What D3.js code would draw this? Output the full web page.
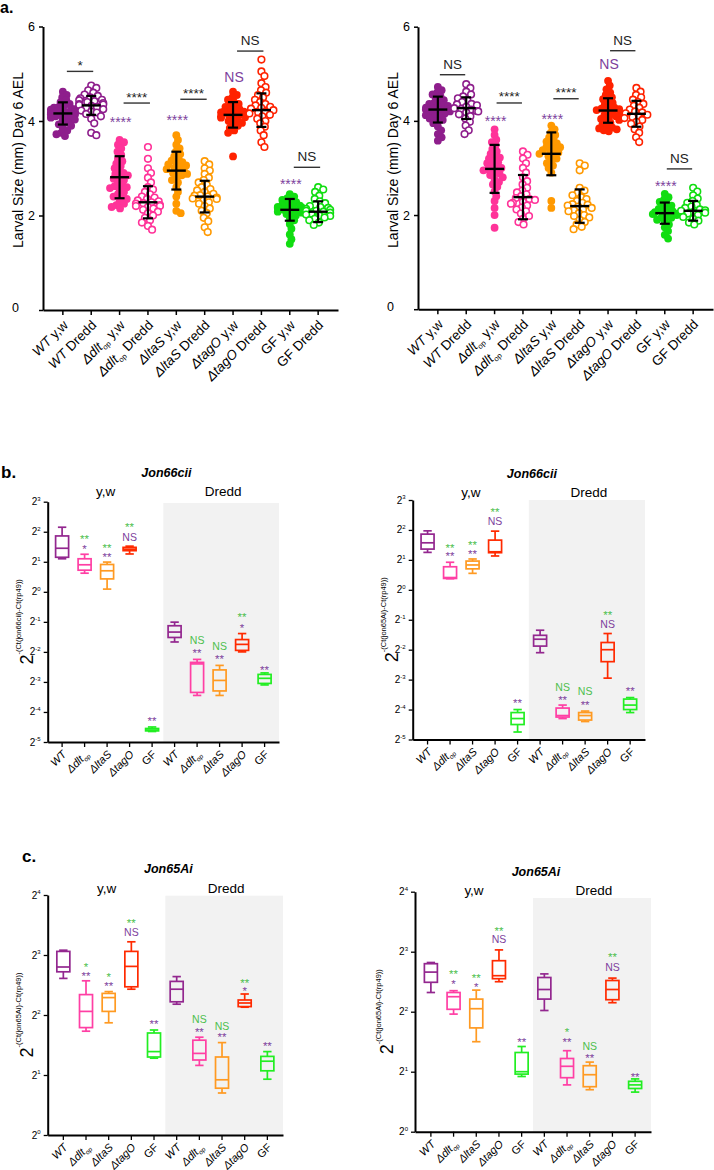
<!DOCTYPE html>
<html><head><meta charset="utf-8">
<script src="https://cdn.jsdelivr.net/npm/d3@7/dist/d3.min.js"></script>
<style>
html,body{margin:0;padding:0;background:#fff;}
svg{display:block;}
text{font-family:Arial,"Liberation Sans",Helvetica,sans-serif;fill:#000;}
</style></head><body>
<svg id="fig" width="714" height="1170"></svg>
<script>
// ================= DATA =================
// Panel a categories
const aGenotypes = ["WT","Δdlt","ΔltaS","ΔtagO","GF"];
const aGenotypeSub = ["","op","","",""];
const aBackgrounds = ["y,w","Dredd"];
const aYTicks = [0,2,4,6];
const groupColors = ["#8E1E8C","#FF3399","#FF9900","#FF2200","#11DD11"];
const boxColors = ["#93278F","#FF3FA4","#FF9A22","#FF2A00","#22EE22"];
const markPurple = "#7E3F9D";
const markGreen = "#4DBF4D";

// Panel a (left) individual larval sizes (mm)
const aL_WT_yw = [3.68,3.72,3.75,3.8,3.85,3.9,3.93,3.97,4.0,4.03,4.05,4.07,4.1,4.12,4.14,4.15,4.17,4.18,4.2,4.22,4.24,4.26,4.28,4.3,4.33,4.36,4.4,4.44,4.5,4.55,4.62,4.08,4.19,4.25,4.13];
const aL_WT_Dredd = [3.7,3.75,3.95,4.05,4.1,4.15,4.18,4.22,4.25,4.28,4.3,4.32,4.34,4.36,4.38,4.4,4.42,4.45,4.48,4.5,4.53,4.56,4.6,4.65,4.7,4.75,4.2,4.35,4.44];
const aL_dlt_yw = [2.15,2.18,2.22,2.25,2.3,2.35,2.4,2.45,2.5,2.55,2.6,2.65,2.7,2.75,2.8,2.85,2.9,2.95,3.0,3.05,3.1,3.15,3.2,3.28,3.35,3.42,3.5,3.55,3.6,2.62,2.78,2.88,2.58,2.4];
const aL_dlt_Dredd = [1.7,1.78,1.85,1.9,1.95,2.0,2.05,2.08,2.12,2.15,2.18,2.2,2.22,2.25,2.28,2.3,2.32,2.35,2.38,2.4,2.45,2.5,2.55,2.6,2.7,2.8,2.9,3.0,3.2,3.45,2.26,2.2];
const aL_ltaS_yw = [2.05,2.1,2.25,2.4,2.5,2.6,2.7,2.75,2.8,2.85,2.9,2.93,2.96,3.0,3.03,3.06,3.1,3.13,3.16,3.2,3.25,3.3,3.35,3.42,3.5,3.6,3.7,2.98,3.08,2.88];
const aL_ltaS_Dredd = [1.65,1.75,1.88,1.95,2.05,2.1,2.15,2.2,2.25,2.28,2.32,2.35,2.38,2.4,2.43,2.46,2.5,2.53,2.56,2.6,2.65,2.7,2.75,2.8,2.88,2.95,3.0,3.08,3.15,2.42,2.36];
const aL_tagO_yw = [3.25,3.75,3.8,3.85,3.9,3.93,3.96,4.0,4.02,4.05,4.07,4.1,4.12,4.14,4.16,4.18,4.2,4.22,4.25,4.28,4.3,4.33,4.36,4.4,4.45,4.5,4.55,4.62,4.08,4.15,4.2];
const aL_tagO_Dredd = [3.45,3.55,3.7,3.8,3.88,3.95,4.0,4.05,4.1,4.13,4.16,4.2,4.23,4.26,4.3,4.33,4.36,4.4,4.45,4.5,4.55,4.6,4.65,4.72,4.8,4.95,5.05,5.3,4.18,4.28];
const aL_GF_yw = [1.4,1.5,1.6,1.72,1.82,1.9,1.95,2.0,2.03,2.06,2.08,2.1,2.12,2.14,2.16,2.18,2.2,2.22,2.25,2.28,2.3,2.33,2.36,2.4,2.45,2.11,2.17,2.05,2.21];
const aL_GF_Dredd = [1.8,1.85,1.9,1.93,1.96,1.99,2.02,2.04,2.06,2.08,2.1,2.12,2.14,2.16,2.18,2.2,2.23,2.26,2.3,2.35,2.42,2.5,2.55,2.6,2.0,2.1];
const aLeftMean = [4.16,4.33,2.81,2.28,2.95,2.4,4.13,4.23,2.12,2.08];
const aLeftSD   = [0.235,0.2,0.445,0.34,0.4,0.335,0.27,0.355,0.23,0.22];
const aLeftBracketLevel = [5.05,4.38,4.46,5.48,3.02];
const aLeftBracketText  = ["*","****","****","NS","NS"];
const aLeftMarkLevel = [null,4.04,4.08,4.93,2.73];
const aLeftMarkText  = ["","****","****","NS","****"];

// Panel a (right)
const aR_WT_yw = [3.58,3.65,3.72,3.8,3.88,3.95,4.0,4.05,4.08,4.12,4.15,4.18,4.2,4.22,4.24,4.26,4.28,4.3,4.33,4.36,4.4,4.44,4.48,4.52,4.56,4.6,4.65,4.72,4.1,4.25,4.32,4.17,4.38,4.02];
const aR_WT_Dredd = [3.72,3.8,3.9,3.98,4.05,4.1,4.14,4.18,4.21,4.24,4.27,4.3,4.33,4.36,4.4,4.44,4.48,4.52,4.56,4.62,4.7,4.78,4.25,4.2,4.35];
const aR_dlt_yw = [1.73,2.0,2.15,2.3,2.4,2.5,2.6,2.65,2.7,2.75,2.8,2.85,2.9,2.95,3.0,3.05,3.1,3.15,3.2,3.25,3.3,3.35,3.4,3.48,3.55,3.6,3.7,3.82,2.97,3.02,3.12,2.88,3.22];
const aR_dlt_Dredd = [1.8,1.85,1.92,1.98,2.03,2.08,2.12,2.16,2.2,2.24,2.28,2.32,2.36,2.4,2.44,2.48,2.52,2.58,2.65,2.72,2.8,2.9,3.0,3.1,3.2,3.28,3.35,2.26,2.34];
const aR_ltaS_yw = [2.15,2.3,2.9,3.0,3.05,3.1,3.15,3.2,3.25,3.3,3.33,3.36,3.4,3.44,3.48,3.52,3.56,3.6,3.65,3.7,3.75,3.82,3.9,3.28,3.38,3.45];
const aR_ltaS_Dredd = [1.7,1.75,1.8,1.85,1.9,1.95,2.0,2.04,2.08,2.12,2.15,2.18,2.2,2.23,2.26,2.3,2.34,2.38,2.42,2.47,2.52,2.58,2.95,3.05,3.1,2.1,2.22,1.98];
const aR_tagO_yw = [3.78,3.8,3.84,3.88,3.92,3.96,4.0,4.04,4.08,4.12,4.16,4.2,4.23,4.26,4.3,4.34,4.38,4.42,4.46,4.5,4.55,4.6,4.67,4.75,4.85,4.1,4.18,4.25,4.28,3.82,3.86,4.02];
const aR_tagO_Dredd = [3.55,3.65,3.75,3.82,3.88,3.94,3.98,4.02,4.06,4.1,4.13,4.16,4.2,4.24,4.28,4.32,4.36,4.4,4.45,4.5,4.55,4.62,4.7,4.08,4.18];
const aR_GF_yw = [1.5,1.58,1.66,1.74,1.8,1.86,1.9,1.94,1.97,2.0,2.03,2.05,2.08,2.1,2.13,2.16,2.2,2.24,2.28,2.33,2.38,2.45,2.02,2.06,1.95];
const aR_GF_Dredd = [1.8,1.84,1.88,1.92,1.96,2.0,2.03,2.06,2.09,2.12,2.15,2.18,2.22,2.26,2.3,2.35,2.42,2.5,2.58,2.05,2.1];
const aRightMean = [4.24,4.27,2.98,2.38,3.3,2.19,4.22,4.15,2.04,2.09];
const aRightSD   = [0.275,0.23,0.51,0.47,0.455,0.355,0.26,0.275,0.225,0.21];
const aRightBracketLevel = [4.98,4.38,4.47,5.49,2.98];
const aRightBracketText  = ["NS","****","****","NS","NS"];
const aRightMarkLevel = [null,4.06,4.1,5.2,2.68];
const aRightMarkText  = ["","****","****","NS","****"];

// Panels b, c: categories (box plots of log2 expression = -(Ct(gene)-Ct(rp49)))
const bcGenotypes = ["WT","Δdlt","ΔltaS","ΔtagO","GF","WT","Δdlt","ΔltaS","ΔtagO","GF"];
const bcGenotypeSub = ["","op","","","","","op","","",""];
const bcHeaders = ["y,w","Dredd"];

// b left: Jon66cii
const bL_whiskerHi = [2.15,1.25,0.99,1.52,-4.5,-1.01,-2.25,-2.45,-1.39,-2.7];
const bL_q3        = [1.86,1.10,0.91,1.48,-4.55,-1.13,-2.35,-2.6,-1.59,-2.75];
const bL_median    = [1.45,0.90,0.70,1.42,-4.6,-1.34,-2.4,-2.95,-1.75,-2.88];
const bL_q1        = [1.15,0.72,0.43,1.37,-4.63,-1.52,-3.35,-3.3,-1.95,-3.05];
const bL_whiskerLo = [1.10,0.62,0.09,1.26,-4.65,-1.67,-3.45,-3.45,-2.0,-3.1];
const bL_greenLevel = [null,1.86,1.56,2.26,null,null,-1.61,-1.81,-0.74,null];
const bL_greenText  = ["","**","**","**","","","NS","NS","**",""];
const bL_purpleLevel = [null,1.53,1.26,1.83,-4.2,null,-1.95,-2.15,-1.12,-2.5];
const bL_purpleText  = ["","*","**","NS","**","","**","**","*","**"];

// b right: Jon66cii
const bR_whiskerHi = [1.97,0.92,1.03,1.96,-4.0,-1.35,-3.85,-4.05,-1.46,-3.6];
const bR_q3        = [1.86,0.77,0.96,1.66,-4.1,-1.52,-3.95,-4.1,-1.76,-3.65];
const bR_median    = [1.57,0.41,0.83,1.27,-4.3,-1.65,-4.2,-4.2,-2.0,-3.85];
const bR_q1        = [1.36,0.38,0.70,1.24,-4.5,-1.88,-4.25,-4.35,-2.4,-4.0];
const bR_whiskerLo = [1.25,0.37,0.55,1.13,-4.75,-2.1,-4.3,-4.4,-2.95,-4.1];
const bR_greenLevel = [null,1.5,1.59,2.7,null,null,-3.25,-3.4,-0.74,null];
const bR_greenText  = ["","**","**","**","","","NS","NS","**",""];
const bR_purpleLevel = [null,1.22,1.27,2.28,-3.7,null,-3.6,-3.75,-1.15,-3.3];
const bR_purpleText  = ["","**","**","NS","**","","**","**","NS","**"];

// c left: Jon65Ai
const cL_whiskerHi = [3.08,2.57,2.39,3.22,1.75,2.64,1.63,1.54,2.35,1.39];
const cL_q3        = [3.06,2.34,2.36,3.06,1.70,2.56,1.58,1.30,2.25,1.31];
const cL_median    = [2.80,2.06,2.29,2.81,1.39,2.43,1.36,0.92,2.20,1.23];
const cL_q1        = [2.72,1.79,2.06,2.47,1.30,2.22,1.25,0.78,2.14,1.07];
const cL_whiskerLo = [2.61,1.73,1.87,2.43,1.28,2.18,1.16,0.70,2.13,0.93];
const cL_greenLevel = [null,2.85,2.67,3.57,null,null,1.93,1.82,2.58,null];
const cL_greenText  = ["","*","*","**","","","NS","NS","**",""];
const cL_purpleLevel = [null,2.70,2.53,3.38,1.89,null,1.76,1.67,2.45,1.53];
const cL_purpleText  = ["","**","**","NS","**","","**","**","*","**"];

// c right: Jon65Ai
const cR_whiskerHi = [2.82,2.35,2.36,3.03,1.42,2.63,1.35,1.16,2.56,0.88];
const cR_q3        = [2.80,2.32,2.21,2.85,1.32,2.57,1.22,1.10,2.52,0.84];
const cR_median    = [2.66,2.25,2.05,2.60,1.00,2.37,1.09,0.95,2.37,0.78];
const cR_q1        = [2.49,2.04,1.73,2.55,0.96,2.21,0.90,0.75,2.20,0.72];
const cR_whiskerLo = [2.32,1.96,1.50,2.50,0.92,2.02,0.78,0.70,2.15,0.66];
const cR_greenLevel = [null,2.67,2.61,3.39,null,null,1.70,1.43,2.95,null];
const cR_greenText  = ["","**","**","**","","","*","NS","**",""];
const cR_purpleLevel = [null,2.51,2.46,3.20,1.54,null,1.54,1.27,2.74,0.96];
const cR_purpleText  = ["","*","*","NS","**","","**","**","NS","**"];

// ================= DRAWING =================
const fig = d3.select("#fig");

function swarm(vals, y, dist, maxW){
  const pts = vals.map(v=>({v, y:y(v)})).sort((a,b)=>a.y-b.y);
  const placed=[];
  for(const p of pts){
    const near = placed.filter(q=>Math.abs(q.y-p.y)<dist);
    const cands=[0];
    near.forEach(q=>{const dx=Math.sqrt(dist*dist-(q.y-p.y)**2); cands.push(q.x+dx+0.01, q.x-dx-0.01);});
    cands.sort((a,b)=>Math.abs(a)-Math.abs(b));
    let x = cands.find(c=>near.every(q=>Math.hypot(q.x-c,q.y-p.y)>=dist-0.02));
    if(x===undefined) x=0;
    if(Math.abs(x)>maxW) x = Math.sign(x)*maxW;
    p.x=x; placed.push(p);
  }
  return placed;
}

function markText(g, x, yc, txt, color, starSize, nsSize){
  const isStar = txt.indexOf("*")>=0;
  const fs = isStar?starSize:nsSize;
  g.append("text").attr("x",x).attr("y", yc + (isStar?0.58*fs:0.36*fs))
    .attr("text-anchor","middle").attr("font-size",fs).style("fill",color).text(txt);
}

function dotPanel(cfg){
  const g = fig.append("g");
  const y = d3.scaleLinear().domain([0,6]).range([cfg.yBase,cfg.yTop]);
  const x = d3.scaleBand().domain(d3.range(10)).range([cfg.xAxis,cfg.xEnd]).paddingInner(0).paddingOuter(0.2);
  const cx = i => x(i)+x.bandwidth()/2;
  // axes
  const ya = g.append("g").attr("transform",`translate(${cfg.xAxis},0)`)
    .call(d3.axisLeft(y).tickValues(aYTicks).tickFormat(d3.format("d")).tickSize(4).tickSizeOuter(0).tickPadding(4));
  ya.select(".domain").attr("stroke-width",2);
  ya.selectAll(".tick line").attr("stroke-width",1.5);
  ya.selectAll(".tick text").attr("font-size",12.5).attr("font-family","Arial, Liberation Sans, sans-serif");
  ya.selectAll(".tick").filter(d=>d===0).select("text").attr("x",-24).attr("dy","0.1em");
  const xa = g.append("g").attr("transform",`translate(0,${cfg.yBase})`)
    .call(d3.axisBottom(x).tickSize(5).tickSizeOuter(0).tickFormat(""));
  xa.select(".domain").attr("stroke-width",2);
  xa.selectAll(".tick line").attr("stroke-width",1.5);
  // x labels
  d3.range(10).forEach(i=>{
    const gi=Math.floor(i/2);
    const t=g.append("text").attr("transform",`translate(${cx(i)+6},${cfg.yBase+16}) rotate(-45)`)
      .attr("text-anchor","end").attr("font-size",13.5);
    t.append("tspan").attr("font-style", gi<4?"italic":"normal").text(aGenotypes[gi]);
    if(aGenotypeSub[gi]){
      t.append("tspan").attr("font-size",7.5).attr("dy",3).text(aGenotypeSub[gi]);
      t.append("tspan").attr("dy",-3).text(" "+aBackgrounds[i%2]);
    } else t.append("tspan").text(" "+aBackgrounds[i%2]);
  });
  // y label
  g.append("text").attr("transform",`translate(${cfg.labelX},${cfg.labelY}) rotate(-90)`)
    .attr("text-anchor","middle").attr("font-size",14).text("Larval Size (mm) Day 6 AEL");
  // dots
  cfg.points.forEach((vals,i)=>{
    const filled = i%2===0;
    const col = groupColors[Math.floor(i/2)];
    const sw = swarm(vals,y,filled?5.0:5.6,12);
    g.append("g").selectAll("circle").data(sw).join("circle")
      .attr("cx",d=>cx(i)+d.x).attr("cy",d=>d.y).attr("r",filled?3.9:3.3)
      .attr("fill",filled?col:"#fff").attr("stroke",col).attr("stroke-width",filled?0:1.6);
  });
  // error bars
  cfg.means.forEach((m,i)=>{
    const s=cfg.sds[i], c=cx(i);
    const eb=g.append("g").attr("stroke","#000").attr("stroke-width",2.2);
    eb.append("line").attr("x1",c).attr("x2",c).attr("y1",y(m-s)).attr("y2",y(m+s));
    eb.append("line").attr("x1",c-5).attr("x2",c+5).attr("y1",y(m-s)).attr("y2",y(m-s));
    eb.append("line").attr("x1",c-5).attr("x2",c+5).attr("y1",y(m+s)).attr("y2",y(m+s));
    eb.append("line").attr("x1",c-9.5).attr("x2",c+9.5).attr("y1",y(m)).attr("y2",y(m)).attr("stroke-width",2.4);
  });
  // brackets
  cfg.bracketLevel.forEach((lv,k)=>{
    const x1=cx(2*k)+cfg.bOff[0], x2=cx(2*k+1)+cfg.bOff[1], yy=y(lv);
    g.append("line").attr("x1",x1).attr("x2",x2).attr("y1",yy).attr("y2",yy).attr("stroke","#333").attr("stroke-width",1.4);
    const txt=cfg.bracketText[k];
    const isStar = txt.indexOf("*")>=0;
    g.append("text").attr("x",(x1+x2)/2).attr("y", isStar?yy-1.5:yy-6)
      .attr("text-anchor","middle").attr("font-size",13.5).style("fill","#222").text(txt);
  });
  // purple marks above y,w groups
  cfg.markLevel.forEach((lv,k)=>{
    if(lv===null) return;
    markText(g, cx(2*k)+1, y(lv), cfg.markText[k], markPurple, 14, 14);
  });
}

function pow2Tick(g,x,y,e){
  const t=g.append("text").attr("x",x).attr("y",y+3.5).attr("text-anchor","end").attr("font-size",10);
  t.append("tspan").text("2");
  t.append("tspan").attr("dy",-4.5).attr("font-size",6).text(e);
}

function boxPanel(cfg){
  const g = fig.append("g");
  const y = d3.scaleLinear().domain(cfg.eDomain).range([cfg.yBase,cfg.yTop]);
  const x = d3.scaleBand().domain(d3.range(10)).range([cfg.xAxis,cfg.xEnd]).paddingInner(0).paddingOuter(cfg.po);
  const cx = i => x(i)+x.bandwidth()/2;
  // gray Dredd area
  g.append("rect").attr("x",x(5)).attr("y",cfg.grayTop).attr("width",cfg.xEnd-x(5)).attr("height",cfg.yBase-cfg.grayTop).attr("fill","#F2F2F2");
  // axes
  const ticks = d3.range(cfg.eDomain[0],cfg.eDomain[1]+1);
  const ya=g.append("g").attr("transform",`translate(${cfg.xAxis},0)`)
    .call(d3.axisLeft(y).tickValues(ticks).tickSize(4).tickSizeOuter(0).tickFormat(""));
  ya.select(".domain").attr("stroke-width",2);
  ya.selectAll(".tick line").attr("stroke-width",1.3);
  ticks.forEach(e=>pow2Tick(g,cfg.xAxis-7,y(e),e));
  const xa=g.append("g").attr("transform",`translate(0,${cfg.yBase})`)
    .call(d3.axisBottom(x).tickSize(5).tickSizeOuter(0).tickFormat(""));
  xa.select(".domain").attr("stroke-width",2);
  xa.selectAll(".tick line").attr("stroke-width",1.3);
  d3.range(10).forEach(i=>{
    const t=g.append("text").attr("transform",`translate(${cx(i)+5},${cfg.yBase+13}) rotate(-45)`)
      .attr("text-anchor","end").attr("font-size",11);
    t.append("tspan").attr("font-style", i%5<4?"italic":"normal").text(bcGenotypes[i]);
    if(bcGenotypeSub[i]) t.append("tspan").attr("font-size",6.5).attr("dy",2.5).attr("font-style","italic").text(bcGenotypeSub[i]);
  });
  // headers
  g.append("text").attr("x",x(5)+3).attr("y",cfg.titleY).attr("text-anchor","middle")
    .attr("font-size",12.5).attr("font-weight","bold").attr("font-style","italic").text(cfg.title);
  g.append("text").attr("x",(cfg.xAxis+x(5))/2).attr("y",cfg.headY).attr("text-anchor","middle").attr("font-size",13.5).text(bcHeaders[0]);
  g.append("text").attr("x",(x(5)+cfg.xEnd)/2+2).attr("y",cfg.headY).attr("text-anchor","middle").attr("font-size",13.5).text(bcHeaders[1]);
  // y label
  const yl=g.append("text").attr("transform",`translate(${cfg.labelX},${(cfg.yBase+cfg.yTop)/2}) rotate(-90)`)
    .attr("text-anchor","middle");
  yl.append("tspan").attr("font-size",18).text("2");
  yl.append("tspan").attr("font-size",7.5).attr("dy",-12).text(cfg.yLabelSup);
  // boxes
  d3.range(10).forEach(i=>{
    const c=cx(i), col=boxColors[i%5];
    const bg=g.append("g").attr("stroke",col).attr("stroke-width",1.7).attr("fill","none");
    bg.append("line").attr("x1",c).attr("x2",c).attr("y1",y(cfg.wHi[i])).attr("y2",y(cfg.q3[i]));
    bg.append("line").attr("x1",c).attr("x2",c).attr("y1",y(cfg.q1[i])).attr("y2",y(cfg.wLo[i]));
    bg.append("line").attr("x1",c-4.2).attr("x2",c+4.2).attr("y1",y(cfg.wHi[i])).attr("y2",y(cfg.wHi[i]));
    bg.append("line").attr("x1",c-4.2).attr("x2",c+4.2).attr("y1",y(cfg.wLo[i])).attr("y2",y(cfg.wLo[i]));
    bg.append("rect").attr("x",c-6.5).attr("width",13).attr("y",y(cfg.q3[i])).attr("height",Math.max(0.5,y(cfg.q1[i])-y(cfg.q3[i])));
    bg.append("line").attr("x1",c-6.5).attr("x2",c+6.5).attr("y1",y(cfg.med[i])).attr("y2",y(cfg.med[i]));
  });
  // annotations
  d3.range(10).forEach(i=>{
    if(cfg.gLv[i]!==null) markText(g,cx(i),y(cfg.gLv[i]),cfg.gTx[i],markGreen,11.5,10.5);
    if(cfg.pLv[i]!==null) markText(g,cx(i),y(cfg.pLv[i]),cfg.pTx[i],markPurple,11.5,10.5);
  });
}

// Panel labels
fig.append("text").attr("x",0).attr("y",13).attr("font-size",16).attr("font-weight","bold").text("a.");
fig.append("text").attr("x",1).attr("y",478).attr("font-size",17).attr("font-weight","bold").text("b.");
fig.append("text").attr("x",22).attr("y",862).attr("font-size",17).attr("font-weight","bold").text("c.");

dotPanel({xAxis:43,xEnd:338,yBase:310,yTop:26.5,labelX:23,labelY:160,bOff:[4,2],
  points:[aL_WT_yw,aL_WT_Dredd,aL_dlt_yw,aL_dlt_Dredd,aL_ltaS_yw,aL_ltaS_Dredd,aL_tagO_yw,aL_tagO_Dredd,aL_GF_yw,aL_GF_Dredd],
  means:aLeftMean,sds:aLeftSD,bracketLevel:aLeftBracketLevel,bracketText:aLeftBracketText,markLevel:aLeftMarkLevel,markText:aLeftMarkText});
dotPanel({xAxis:418,xEnd:713,yBase:309.2,yTop:26.7,labelX:398,labelY:160,bOff:[2,-1],
  points:[aR_WT_yw,aR_WT_Dredd,aR_dlt_yw,aR_dlt_Dredd,aR_ltaS_yw,aR_ltaS_Dredd,aR_tagO_yw,aR_tagO_Dredd,aR_GF_yw,aR_GF_Dredd],
  means:aRightMean,sds:aRightSD,bracketLevel:aRightBracketLevel,bracketText:aRightBracketText,markLevel:aRightMarkLevel,markText:aRightMarkText});

boxPanel({xAxis:47.7,xEnd:279,po:0.14,yBase:742,yTop:501.7,eDomain:[-5,3],grayTop:503,titleY:477,headY:496,
  title:"Jon66cii",labelX:33,yLabelSup:"-(Ct(jon66cii)-Ct(rp49))",
  wHi:bL_whiskerHi,q3:bL_q3,med:bL_median,q1:bL_q1,wLo:bL_whiskerLo,gLv:bL_greenLevel,gTx:bL_greenText,pLv:bL_purpleLevel,pTx:bL_purpleText});
boxPanel({xAxis:412.7,xEnd:645,po:0.16,yBase:739.5,yTop:500,eDomain:[-5,3],grayTop:500,titleY:478,headY:497,
  title:"Jon66cii",labelX:398,yLabelSup:"-(Ct(jon65Ai)-Ct(rp49))",
  wHi:bR_whiskerHi,q3:bR_q3,med:bR_median,q1:bR_q1,wLo:bR_whiskerLo,gLv:bR_greenLevel,gTx:bR_greenText,pLv:bR_purpleLevel,pTx:bR_purpleText});
boxPanel({xAxis:47.7,xEnd:283,po:0.19,yBase:1135,yTop:895,eDomain:[0,4],grayTop:895.7,titleY:873,headY:893,
  title:"Jon65Ai",labelX:33,yLabelSup:"-(Ct(jon65Ai)-Ct(rp49))",
  wHi:cL_whiskerHi,q3:cL_q3,med:cL_median,q1:cL_q1,wLo:cL_whiskerLo,gLv:cL_greenLevel,gTx:cL_greenText,pLv:cL_purpleLevel,pTx:cL_purpleText});
boxPanel({xAxis:415,xEnd:651,po:0.2,yBase:1131.7,yTop:891.7,eDomain:[0,4],grayTop:898,titleY:876,headY:895,
  title:"Jon65Ai",labelX:393,yLabelSup:"-(Ct(jon65Ai)-Ct(rp49))",
  wHi:cR_whiskerHi,q3:cR_q3,med:cR_median,q1:cR_q1,wLo:cR_whiskerLo,gLv:cR_greenLevel,gTx:cR_greenText,pLv:cR_purpleLevel,pTx:cR_purpleText});
</script>
</body></html>
